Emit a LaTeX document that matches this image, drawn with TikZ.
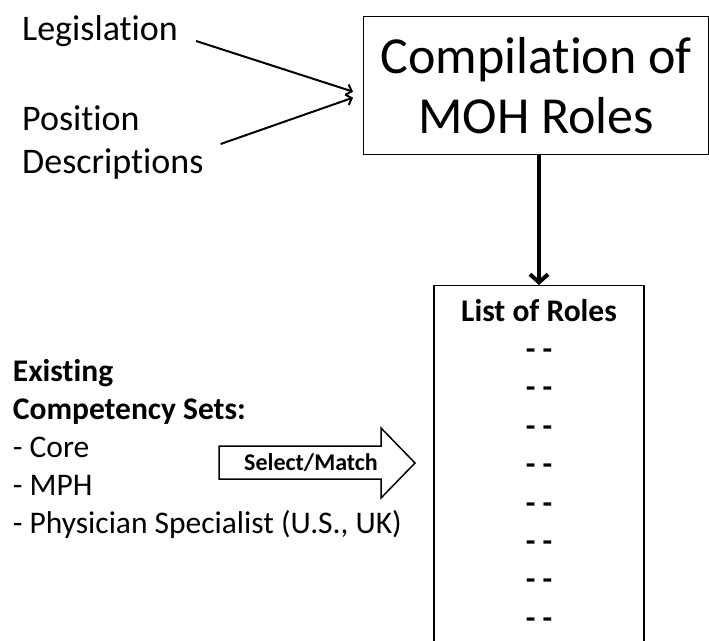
\documentclass[tikz,border=0pt]{standalone}
\usepackage{fontspec}
\setmainfont{Carlito}[Ligatures=NoCommon]
\usetikzlibrary{arrows.meta}
\tikzset{
  source text/.style={font=\fontsize{36}{43}\selectfont, align=left, inner sep=3pt},
  set text/.style={font=\fontsize{31.5}{38}\selectfont, align=left, inner sep=3pt},
  role text/.style={font=\fontsize{31.5}{38}\selectfont\bfseries, inner sep=0pt},
  role box/.style={draw, line width=1.3pt},
  feed/.style={line width=2pt, -{Straight Barb[length=5pt,width=11pt]}},
}
\begin{document}
\begin{tikzpicture}[x=1pt,y=-1pt]
\clip (0,0) rectangle (709,640);
% sources of the roles
\node[source text, anchor=base west] (leg) at (19,40) {Legislation};
\node[source text, anchor=west] (pos) at (19,143) {Position\\Descriptions};
\node[role box, anchor=north west, minimum width=345pt, minimum height=138pt,
  align=center, font=\fontsize{52}{60}\selectfont] (compile) at (363,16) {Compilation of\\MOH Roles};
\draw[feed] ([shift={(15pt,-1pt)}]leg.base east) -- ([shift={(-10pt,-6pt)}]compile.west);
\draw[feed] ([shift={(14pt,-1pt)}]pos.east) -- ([shift={(-10pt,-12pt)}]compile.west);
% list of roles
\node[role box, anchor=north, minimum width=210pt, minimum height=400pt] (roles) at (539,285) {};
\node[role text, anchor=base] (title) at (539,321) {List of Roles};
\foreach \i in {1,...,8}
  \node[role text, anchor=base] (dash\i) at (539,{359.5+38.4*(\i-1)}) {- -};
\draw[line width=4pt, -{Straight Barb[length=8pt,width=18pt]}] (compile.south -| roles.north) -- (roles.north);
% competency sets
\node[set text, anchor=west] (sets) at (9.7,449) {\textbf{Existing}\\\textbf{Competency Sets:}\\- Core\\- MPH\\- Physician Specialist (U.S., UK)};
\draw[line width=1.5pt] (219,446) -- (381,446) -- (381,428) -- (415,463) -- (381,498) -- (381,479) -- (219,479) -- cycle;
\node[font=\fontsize{24}{29}\selectfont\bfseries, anchor=base, inner sep=0pt] (select) at (311,470) {Select/Match};
\end{tikzpicture}
\end{document}
